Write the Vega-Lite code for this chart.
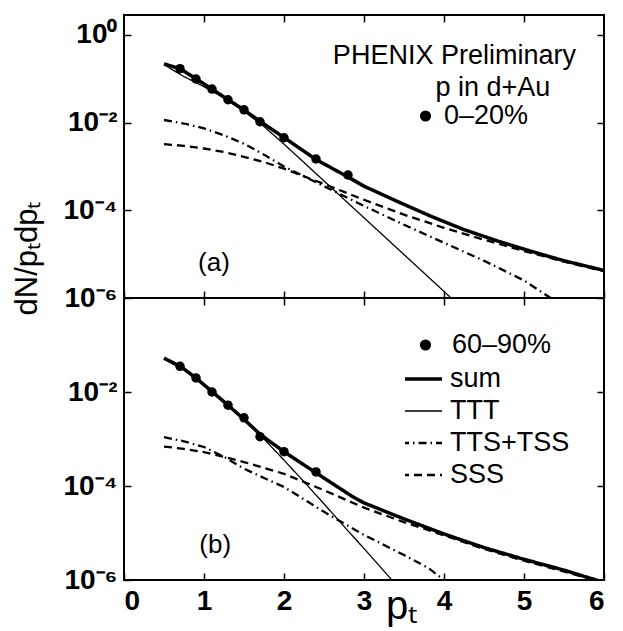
{
 "$schema": "https://vega.github.io/schema/vega-lite/v6.json",
 "padding": {"left": 10, "top": 13, "right": 5, "bottom": 5},
 "background": "white",
 "datasets": {
  "curves": [
   {"panel":"a","series":"sum","x":0.5,"y":0.2188},{"panel":"a","series":"sum","x":0.7,"y":0.1698},{"panel":"a","series":"sum","x":0.9,"y":0.1},{"panel":"a","series":"sum","x":1.1,"y":0.0582},{"panel":"a","series":"sum","x":1.3,"y":0.0335},{"panel":"a","series":"sum","x":1.5,"y":0.0195},{"panel":"a","series":"sum","x":1.7,"y":0.01072},{"panel":"a","series":"sum","x":2.0,"y":0.004571},{"panel":"a","series":"sum","x":2.4,"y":0.001445},{"panel":"a","series":"sum","x":2.8,"y":0.0005754},{"panel":"a","series":"sum","x":3.0,"y":0.0003548},{"panel":"a","series":"sum","x":3.42,"y":0.0001585},{"panel":"a","series":"sum","x":3.83,"y":0.00007413},{"panel":"a","series":"sum","x":4.25,"y":0.00003631},{"panel":"a","series":"sum","x":4.67,"y":0.00001995},{"panel":"a","series":"sum","x":5.08,"y":0.00001175},{"panel":"a","series":"sum","x":5.5,"y":0.000007079},{"panel":"a","series":"sum","x":6.0,"y":0.000004266},
   {"panel":"a","series":"TTT","x":0.5,"y":0.2089},{"panel":"a","series":"TTT","x":0.75,"y":0.1122},{"panel":"a","series":"TTT","x":1.0,"y":0.06607},{"panel":"a","series":"TTT","x":1.25,"y":0.03631},{"panel":"a","series":"TTT","x":1.5,"y":0.0182},{"panel":"a","series":"TTT","x":1.75,"y":0.008128},{"panel":"a","series":"TTT","x":2.0,"y":0.003236},{"panel":"a","series":"TTT","x":2.25,"y":0.00123},{"panel":"a","series":"TTT","x":2.5,"y":0.0004677},{"panel":"a","series":"TTT","x":2.75,"y":0.0001778},{"panel":"a","series":"TTT","x":3.0,"y":0.00006761},{"panel":"a","series":"TTT","x":3.5,"y":0.000009772},{"panel":"a","series":"TTT","x":4.0,"y":0.000001413},{"panel":"a","series":"TTT","x":4.1,"y":9.55e-7},
   {"panel":"a","series":"TTS+TSS","x":0.5,"y":0.01148},{"panel":"a","series":"TTS+TSS","x":0.75,"y":0.00955},{"panel":"a","series":"TTS+TSS","x":1.0,"y":0.007413},{"panel":"a","series":"TTS+TSS","x":1.25,"y":0.005129},{"panel":"a","series":"TTS+TSS","x":1.5,"y":0.003311},{"panel":"a","series":"TTS+TSS","x":1.75,"y":0.001862},{"panel":"a","series":"TTS+TSS","x":2.0,"y":0.001},{"panel":"a","series":"TTS+TSS","x":2.5,"y":0.0003548},{"panel":"a","series":"TTS+TSS","x":3.0,"y":0.0001259},{"panel":"a","series":"TTS+TSS","x":3.5,"y":0.00004677},{"panel":"a","series":"TTS+TSS","x":4.0,"y":0.0000182},{"panel":"a","series":"TTS+TSS","x":4.5,"y":0.000007079},{"panel":"a","series":"TTS+TSS","x":5.0,"y":0.000002512},{"panel":"a","series":"TTS+TSS","x":5.35,"y":9.55e-7},
   {"panel":"a","series":"SSS","x":0.5,"y":0.003236},{"panel":"a","series":"SSS","x":0.75,"y":0.002951},{"panel":"a","series":"SSS","x":1.0,"y":0.00257},{"panel":"a","series":"SSS","x":1.25,"y":0.002138},{"panel":"a","series":"SSS","x":1.5,"y":0.00166},{"panel":"a","series":"SSS","x":1.75,"y":0.001259},{"panel":"a","series":"SSS","x":2.0,"y":0.0008913},{"panel":"a","series":"SSS","x":2.5,"y":0.0003981},{"panel":"a","series":"SSS","x":3.0,"y":0.0001738},{"panel":"a","series":"SSS","x":3.5,"y":0.00007943},{"panel":"a","series":"SSS","x":4.0,"y":0.00003981},{"panel":"a","series":"SSS","x":4.5,"y":0.00002138},{"panel":"a","series":"SSS","x":5.0,"y":0.00001175},{"panel":"a","series":"SSS","x":5.5,"y":0.000006761},{"panel":"a","series":"SSS","x":6.0,"y":0.000004074},
   {"panel":"b","series":"sum","x":0.5,"y":0.05248},{"panel":"b","series":"sum","x":0.7,"y":0.03548},{"panel":"b","series":"sum","x":0.9,"y":0.01995},{"panel":"b","series":"sum","x":1.1,"y":0.01023},{"panel":"b","series":"sum","x":1.3,"y":0.005248},{"panel":"b","series":"sum","x":1.5,"y":0.00263},{"panel":"b","series":"sum","x":1.7,"y":0.001259},{"panel":"b","series":"sum","x":2.0,"y":0.000537},{"panel":"b","series":"sum","x":2.4,"y":0.0001905},{"panel":"b","series":"sum","x":2.86,"y":0.00005888},{"panel":"b","series":"sum","x":3.0,"y":0.00004365},{"panel":"b","series":"sum","x":3.5,"y":0.00001995},{"panel":"b","series":"sum","x":4.0,"y":0.00000955},{"panel":"b","series":"sum","x":4.5,"y":0.000004898},{"panel":"b","series":"sum","x":5.0,"y":0.000002754},{"panel":"b","series":"sum","x":5.5,"y":0.000001622},{"panel":"b","series":"sum","x":5.9,"y":0.000001},{"panel":"b","series":"sum","x":6.0,"y":8.913e-7},
   {"panel":"b","series":"TTT","x":0.5,"y":0.05012},{"panel":"b","series":"TTT","x":0.75,"y":0.02951},{"panel":"b","series":"TTT","x":1.0,"y":0.01349},{"panel":"b","series":"TTT","x":1.25,"y":0.006026},{"panel":"b","series":"TTT","x":1.5,"y":0.00257},{"panel":"b","series":"TTT","x":1.75,"y":0.001},{"panel":"b","series":"TTT","x":2.0,"y":0.0003548},{"panel":"b","series":"TTT","x":2.25,"y":0.000123},{"panel":"b","series":"TTT","x":2.5,"y":0.00004169},{"panel":"b","series":"TTT","x":2.75,"y":0.0000138},{"panel":"b","series":"TTT","x":3.0,"y":0.000004677},{"panel":"b","series":"TTT","x":3.25,"y":0.000001549},{"panel":"b","series":"TTT","x":3.4,"y":7.943e-7},
   {"panel":"b","series":"TTS+TSS","x":0.5,"y":0.001096},{"panel":"b","series":"TTS+TSS","x":0.75,"y":0.0008913},{"panel":"b","series":"TTS+TSS","x":1.0,"y":0.0006761},{"panel":"b","series":"TTS+TSS","x":1.25,"y":0.0004169},{"panel":"b","series":"TTS+TSS","x":1.5,"y":0.0002344},{"panel":"b","series":"TTS+TSS","x":1.75,"y":0.0001479},{"panel":"b","series":"TTS+TSS","x":2.0,"y":0.0000955},{"panel":"b","series":"TTS+TSS","x":2.5,"y":0.00002818},{"panel":"b","series":"TTS+TSS","x":3.0,"y":0.00000912},{"panel":"b","series":"TTS+TSS","x":3.5,"y":0.000003388},{"panel":"b","series":"TTS+TSS","x":3.8,"y":0.00000182},{"panel":"b","series":"TTS+TSS","x":4.0,"y":0.000001},{"panel":"b","series":"TTS+TSS","x":4.05,"y":8.511e-7},
   {"panel":"b","series":"SSS","x":0.5,"y":0.0006918},{"panel":"b","series":"SSS","x":0.75,"y":0.0006166},{"panel":"b","series":"SSS","x":1.0,"y":0.0005248},{"panel":"b","series":"SSS","x":1.25,"y":0.0004169},{"panel":"b","series":"SSS","x":1.5,"y":0.0003236},{"panel":"b","series":"SSS","x":2.0,"y":0.000182},{"panel":"b","series":"SSS","x":2.5,"y":0.00008128},{"panel":"b","series":"SSS","x":3.0,"y":0.00003467},{"panel":"b","series":"SSS","x":3.5,"y":0.00001698},{"panel":"b","series":"SSS","x":4.0,"y":0.000008913},{"panel":"b","series":"SSS","x":4.5,"y":0.000004571},{"panel":"b","series":"SSS","x":5.0,"y":0.00000257},{"panel":"b","series":"SSS","x":5.5,"y":0.000001514},{"panel":"b","series":"SSS","x":5.9,"y":9.772e-7}
  ],
  "points": [
   {"panel":"a","label":"0–20%","x":0.7,"y":0.1698},{"panel":"a","label":"0–20%","x":0.9,"y":0.09886},{"panel":"a","label":"0–20%","x":1.1,"y":0.0582},{"panel":"a","label":"0–20%","x":1.3,"y":0.03327},{"panel":"a","label":"0–20%","x":1.5,"y":0.01959},{"panel":"a","label":"0–20%","x":1.7,"y":0.01047},{"panel":"a","label":"0–20%","x":2.0,"y":0.004519},{"panel":"a","label":"0–20%","x":2.4,"y":0.001479},{"panel":"a","label":"0–20%","x":2.8,"y":0.0006383},
   {"panel":"b","label":"60–90%","x":0.7,"y":0.03524},{"panel":"b","label":"60–90%","x":0.9,"y":0.01995},{"panel":"b","label":"60–90%","x":1.1,"y":0.01},{"panel":"b","label":"60–90%","x":1.3,"y":0.005248},{"panel":"b","label":"60–90%","x":1.5,"y":0.002818},{"panel":"b","label":"60–90%","x":1.7,"y":0.001122},{"panel":"b","label":"60–90%","x":2.0,"y":0.000537},{"panel":"b","label":"60–90%","x":2.4,"y":0.0001995}
  ]
 },
 "spacing": 0,
 "bounds": "flush",
 "resolve": {"scale": {"shape": "independent", "strokeDash": "independent"}, "legend": {"shape": "independent", "strokeDash": "independent"}},
 "vconcat": [
  {
   "width": 480, "height": 283,
   "layer": [
    {
     "data": {"name": "curves"},
     "transform": [{"filter": "datum.panel === 'a'"}],
     "mark": {"type": "line", "clip": true, "color": "black"},
     "encoding": {
      "x": {"field": "x", "type": "quantitative", "scale": {"domain": [0, 6], "nice": false}, "axis": {"orient": "bottom", "values": [0,1,2,3,4,5,6], "labels": false, "title": null}},
      "y": {"field": "y", "type": "quantitative", "scale": {"type": "log", "domain": [0.000001, 2.85], "nice": false}, "axis": {"orient": "left", "values": [0.000001, 0.0001, 0.01, 1], "labelExpr": "datum.value > 0.5 ? '10⁰' : datum.value > 0.005 ? '10⁻²' : datum.value > 0.00005 ? '10⁻⁴' : '10⁻⁶'", "title": "dN/pₜdpₜ", "titleX": -88, "titleY": 243, "titleAngle": -90, "titleAlign": "center", "titleBaseline": "alphabetic", "titleFontSize": 31}},
      "strokeDash": {"field": "series", "type": "nominal", "scale": {"domain": ["sum", "TTT", "TTS+TSS", "SSS"], "range": [[1,0],[1,0],[8,4,1.5,4],[8,5]]}, "legend": null},
      "strokeWidth": {"condition": [{"test": "datum.series === 'sum'", "value": 3.5}, {"test": "datum.series === 'TTT'", "value": 1.3}], "value": 2.3}
     }
    },
    {
     "data": {"name": "points"},
     "transform": [{"filter": "datum.panel === 'a'"}],
     "mark": {"type": "point", "filled": true, "size": 90, "color": "black", "opacity": 1},
     "encoding": {
      "x": {"field": "x", "type": "quantitative", "scale": {"domain": [0, 6], "nice": false}, "axis": null},
      "y": {"field": "y", "type": "quantitative", "scale": {"type": "log", "domain": [0.000001, 2.85], "nice": false}, "axis": null},
      "shape": {"field": "label", "type": "nominal", "scale": {"range": ["circle"]}, "legend": {"orient": "none", "legendX": 288, "legendY": 87, "title": null, "labelOffset": 5, "symbolSize": 125, "symbolFillColor": "black", "symbolStrokeColor": "black", "symbolStrokeWidth": 0, "clipHeight": 28, "padding": 0}}
     }
    },
    {
     "data": {"values": [{}]},
     "mark": {"type": "text", "text": "PHENIX Preliminary", "fontSize": 27, "font": "Liberation Sans", "align": "center", "baseline": "alphabetic", "color": "black"},
     "encoding": {
      "x": {"datum": 4.13, "type": "quantitative", "scale": {"domain": [0, 6], "nice": false}, "axis": null},
      "y": {"datum": 0.215, "type": "quantitative", "scale": {"type": "log", "domain": [0.000001, 2.85], "nice": false}, "axis": null}
     }
    },
    {
     "data": {"values": [{}]},
     "mark": {"type": "text", "text": "p in d+Au", "fontSize": 27, "font": "Liberation Sans", "align": "center", "baseline": "alphabetic", "color": "black"},
     "encoding": {
      "x": {"datum": 4.61, "type": "quantitative", "scale": {"domain": [0, 6], "nice": false}, "axis": null},
      "y": {"datum": 0.041, "type": "quantitative", "scale": {"type": "log", "domain": [0.000001, 2.85], "nice": false}, "axis": null}
     }
    },
    {
     "data": {"values": [{}]},
     "mark": {"type": "text", "text": "(a)", "fontSize": 26, "font": "Liberation Sans", "align": "center", "baseline": "middle", "color": "black"},
     "encoding": {
      "x": {"datum": 1.125, "type": "quantitative", "scale": {"domain": [0, 6], "nice": false}, "axis": null},
      "y": {"datum": 0.00000631, "type": "quantitative", "scale": {"type": "log", "domain": [0.000001, 2.85], "nice": false}, "axis": null}
     }
    },
    {
     "data": {"name": "curves"},
     "transform": [{"filter": "datum.panel === 'a'"}],
     "mark": {"type": "point", "opacity": 0, "clip": true},
     "encoding": {
      "x": {"field": "x", "type": "quantitative", "scale": {"domain": [0, 6], "nice": false}, "axis": {"orient": "top", "values": [1,2,3,4,5], "labels": false, "title": null}},
      "y": {"field": "y", "type": "quantitative", "scale": {"type": "log", "domain": [0.000001, 2.85], "nice": false}, "axis": {"orient": "right", "values": [0.000001, 0.0001, 0.01, 1], "labels": false, "title": null}}
     }
    }
   ],
   "resolve": {"scale": {"x": "shared", "y": "shared"}, "axis": {"x": "independent", "y": "independent"}}
  },
  {
   "width": 480, "height": 282,
   "layer": [
    {
     "data": {"name": "curves"},
     "transform": [{"filter": "datum.panel === 'b'"}],
     "mark": {"type": "line", "clip": true, "color": "black"},
     "encoding": {
      "x": {"field": "x", "type": "quantitative", "scale": {"domain": [0, 6], "nice": false}, "axis": {"orient": "bottom", "values": [0,1,2,3,4,5,6], "title": "pₜ", "titleX": 277, "titleY": 38, "titleAlign": "center", "titleBaseline": "alphabetic", "titleAngle": 0, "titleFontSize": 40}},
      "y": {"field": "y", "type": "quantitative", "scale": {"type": "log", "domain": [0.000001, 1], "nice": false}, "axis": {"orient": "left", "values": [0.000001, 0.0001, 0.01], "labelExpr": "datum.value > 0.5 ? '10⁰' : datum.value > 0.005 ? '10⁻²' : datum.value > 0.00005 ? '10⁻⁴' : '10⁻⁶'", "title": null}},
      "strokeDash": {"field": "series", "type": "nominal", "scale": {"domain": ["sum", "TTT", "TTS+TSS", "SSS"], "range": [[1,0],[1,0],[8,4,1.5,4],[8,5]]}, "legend": {"orient": "none", "legendX": 281, "legendY": 67, "title": null, "labelOffset": 15, "symbolOffset": 3, "symbolType": "stroke", "symbolSize": 1681, "symbolStrokeColor": "black", "clipHeight": 28, "rowPadding": 4, "padding": 0, "encode": {"symbols": {"update": {"strokeWidth": {"signal": "datum.value === 'sum' ? 3.5 : datum.value === 'TTT' ? 1.3 : 2.3"}}}}}},
      "strokeWidth": {"condition": [{"test": "datum.series === 'sum'", "value": 3.5}, {"test": "datum.series === 'TTT'", "value": 1.3}], "value": 2.3}
     }
    },
    {
     "data": {"name": "points"},
     "transform": [{"filter": "datum.panel === 'b'"}],
     "mark": {"type": "point", "filled": true, "size": 90, "color": "black", "opacity": 1},
     "encoding": {
      "x": {"field": "x", "type": "quantitative", "scale": {"domain": [0, 6], "nice": false}, "axis": null},
      "y": {"field": "y", "type": "quantitative", "scale": {"type": "log", "domain": [0.000001, 1], "nice": false}, "axis": null},
      "shape": {"field": "label", "type": "nominal", "scale": {"range": ["circle"]}, "legend": {"orient": "none", "legendX": 288, "legendY": 33, "title": null, "labelOffset": 13, "symbolSize": 125, "symbolFillColor": "black", "symbolStrokeColor": "black", "symbolStrokeWidth": 0, "clipHeight": 28, "padding": 0}}
     }
    },
    {
     "data": {"values": [{}]},
     "mark": {"type": "text", "text": "(b)", "fontSize": 26, "font": "Liberation Sans", "align": "center", "baseline": "middle", "color": "black"},
     "encoding": {
      "x": {"datum": 1.14, "type": "quantitative", "scale": {"domain": [0, 6], "nice": false}, "axis": null},
      "y": {"datum": 0.00000556, "type": "quantitative", "scale": {"type": "log", "domain": [0.000001, 1], "nice": false}, "axis": null}
     }
    },
    {
     "data": {"name": "curves"},
     "transform": [{"filter": "datum.panel === 'b'"}],
     "mark": {"type": "point", "opacity": 0, "clip": true},
     "encoding": {
      "x": {"field": "x", "type": "quantitative", "scale": {"domain": [0, 6], "nice": false}, "axis": {"orient": "top", "values": [1,2,3,4,5], "labels": false, "title": null}},
      "y": {"field": "y", "type": "quantitative", "scale": {"type": "log", "domain": [0.000001, 1], "nice": false}, "axis": {"orient": "right", "values": [0.0001, 0.01], "labels": false, "title": null}}
     }
    }
   ],
   "resolve": {"scale": {"x": "shared", "y": "shared"}, "axis": {"x": "independent", "y": "independent"}}
  }
 ],
 "config": {
  "view": {"stroke": "black", "strokeWidth": 2},
  "axis": {"domain": false, "grid": false, "ticks": true, "tickColor": "black", "tickWidth": 1.5, "tickSize": -7, "labelFont": "Liberation Sans", "labelFontWeight": "bold", "labelFontSize": 28, "labelColor": "black", "labelPadding": 14, "titleFont": "Liberation Sans", "titleFontWeight": "normal", "titleFontSize": 30, "titleColor": "black"},
  "legend": {"labelFont": "Liberation Sans", "labelFontSize": 27, "labelColor": "black", "labelLimit": 300}
 }
}
